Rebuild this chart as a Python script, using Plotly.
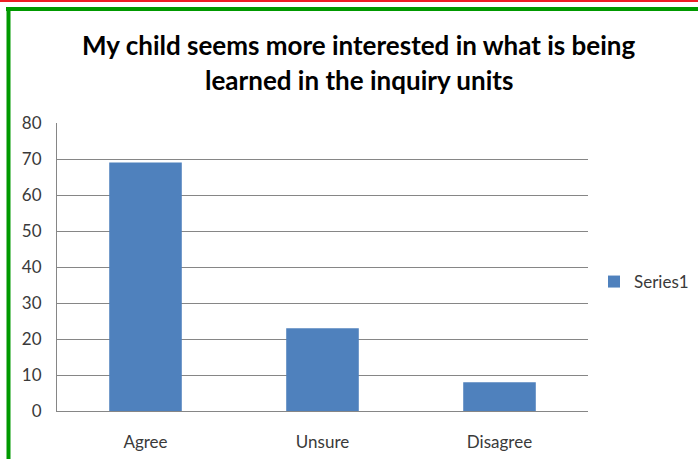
import plotly.graph_objects as go

categories = ["Agree", "Unsure", "Disagree"]
values = [69, 23, 8]
series_name = "Series1"
title_lines = ["My child seems more interested in what is being",
               "learned in the inquiry units"]
y_ticks = [0, 10, 20, 30, 40, 50, 60, 70, 80]

W, H = 698, 459
L, R, T, B = 57, 110, 123, 48
PW, PH = W - L - R, H - T - B

def px(xp):
    return (xp - L) / PW

def py(yp):
    return (H - B - yp) / PH

FONT = "Lato, Carlito, sans-serif"
TXT = "#3a3a3a"

fig = go.Figure()
fig.add_trace(go.Bar(x=categories, y=values, name=series_name,
                     marker=dict(color="#4f81bd", line=dict(width=0)),
                     showlegend=True))

fig.update_layout(
    width=W, height=H,
    margin=dict(l=L, r=R, t=T, b=B, autoexpand=False),
    paper_bgcolor="white", plot_bgcolor="white",
    bargap=0.59,
    font=dict(family=FONT, color=TXT, size=17),
    showlegend=True,
    legend=dict(x=px(594), y=py(282), xanchor="left", yanchor="middle",
                font=dict(size=17, color=TXT), itemwidth=30,
                bgcolor="rgba(0,0,0,0)"),
    xaxis=dict(showgrid=False, showline=True, linecolor="#868686", linewidth=1,
               ticks="", tickfont=dict(size=17, color=TXT), ticklabelstandoff=16),
    yaxis=dict(range=[0, 80], tickvals=y_ticks, showgrid=True,
               gridcolor="#868686", gridwidth=1, showline=True,
               linecolor="#868686", linewidth=1, ticks="", zeroline=False,
               tickfont=dict(size=17, color=TXT), ticklabelstandoff=11),
)

for i, line in enumerate(title_lines):
    fig.add_annotation(text="<b>" + line + "</b>", xref="paper", yref="paper",
                       x=px(359), y=py(45 + 35 * i), xanchor="center",
                       yanchor="middle", showarrow=False,
                       font=dict(size=26, color="#000000", family=FONT))

# decorative frame lines
fig.add_shape(type="line", xref="paper", yref="paper",
              x0=px(-5), x1=px(W + 5), y0=py(1), y1=py(1),
              line=dict(color="#ee1c24", width=2))
fig.add_shape(type="line", xref="paper", yref="paper",
              x0=px(6), x1=px(W + 5), y0=py(9), y1=py(9),
              line=dict(color="#009900", width=4))
fig.add_shape(type="line", xref="paper", yref="paper",
              x0=px(8.5), x1=px(8.5), y0=py(7), y1=py(H + 5),
              line=dict(color="#009900", width=4))

fig.write_html("out.html", config={"displayModeBar": False},
               post_script="document.body.style.margin='0';document.body.style.padding='0';")
